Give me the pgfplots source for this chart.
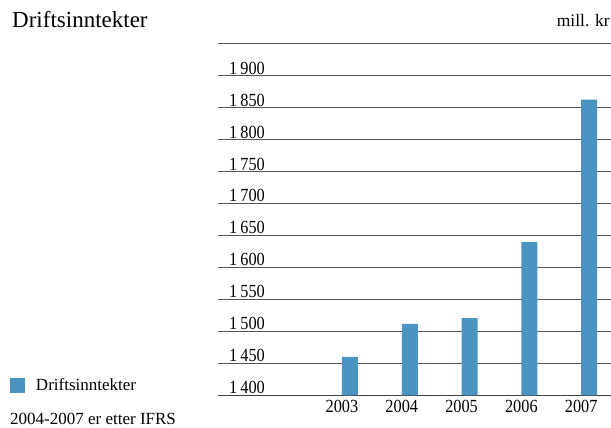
\documentclass[border=0pt]{standalone}
\usepackage{fontspec}
\setmainfont{Liberation Serif}
\newfontfamily\numfont{Liberation Serif}[FakeStretch=0.88]
\usepackage{pgfplots}
\pgfplotsset{compat=1.18}
\definecolor{barblue}{RGB}{73,148,193}
\definecolor{gridgray}{RGB}{85,85,85}
\begin{document}
\begin{tikzpicture}[x=1pt,y=1pt]
\path[use as bounding box] (0,0) rectangle (611,428);
\begin{axis}[
  at={(218pt,32.7pt)}, anchor=south west,
  scale only axis, width=393pt, height=351.3pt,
  xmin=-2.207, xmax=4.365, ymin=1400, ymax=1950,
  axis x line*=bottom, axis y line*=left,
  y axis line style={draw=none},
  x axis line style={draw=black!75, line width=1pt, -},
  ymajorgrids, major grid style={draw=gridgray, line width=1pt},
  major tick length=0pt,
  ytick={1400,1450,...,1950},
  yticklabels={1\,400,1\,450,1\,500,1\,550,1\,600,1\,650,1\,700,1\,750,1\,800,1\,850,1\,900,{}},
  yticklabel style={font=\numfont\fontsize{18.5}{20}\selectfont, anchor=base west, inner sep=0pt, xshift=11pt, yshift=1.7pt},
  xtick={0,1,2,3,4},
  xticklabels={2003,2004,2005,2006,2007},
  xticklabel style={font=\numfont\fontsize{18.5}{20}\selectfont, anchor=base, inner sep=0pt, yshift=-17.2pt, xshift=-8pt},
  ybar, bar width=16pt,
  legend style={at={(axis description cs:-0.5293,0.0293)}, anchor=west, draw=none, fill=none,
    inner sep=0pt, outer sep=0pt, nodes={inner sep=0pt}, column sep=11pt,
    font=\fontsize{17}{20}\selectfont},
  legend cell align=left,
  legend image code/.code={\fill[barblue] (0pt,-7.5pt) rectangle (15pt,7.5pt);},
]
\addplot[fill=barblue, draw=none] coordinates {(0,1460) (1,1512) (2,1521) (3,1640) (4,1863)};
\addlegendentry{Driftsinntekter}
\end{axis}
\node[anchor=base west, inner sep=0pt, font=\fontsize{23}{26}\selectfont] at (12,400) {Driftsinntekter};
\node[anchor=base east, inner sep=0pt, font=\fontsize{17.5}{20}\selectfont] at (610,401.3) {mill. kr};
\node[anchor=base west, inner sep=0pt, font=\fontsize{17}{20}\selectfont] at (10,3.7) {2004-2007 er etter IFRS};
\end{tikzpicture}
\end{document}
